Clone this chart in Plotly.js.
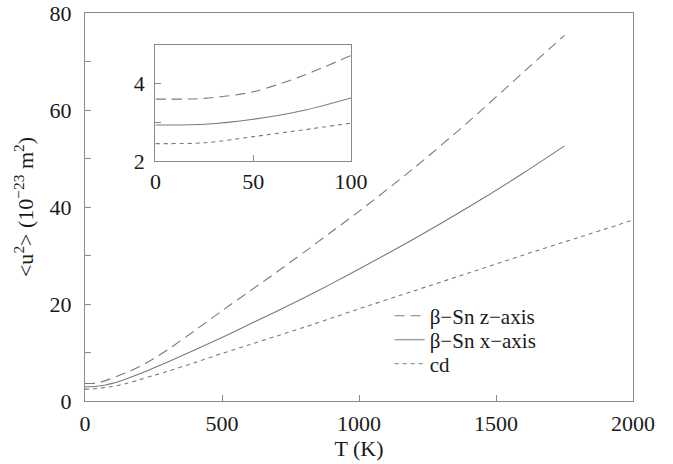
<!DOCTYPE html>
<html>
<head>
<meta charset="utf-8">
<script src="https://cdn.plot.ly/plotly-3.0.1.min.js"></script>
<style>
html,body{margin:0;padding:0;background:#fff;}
#chart{width:673px;height:464px;}
</style>
</head>
<body>
<div id="chart"></div>
<script>
// Temperatures (K)
const tempSn = [0, 25, 50, 75, 100, 150, 200, 250, 300, 400, 500, 600, 700, 800, 900, 1000, 1200, 1400, 1600, 1750];
const tempCd = [0, 25, 50, 75, 100, 150, 200, 250, 300, 400, 500, 600, 700, 800, 900, 1000, 1200, 1400, 1600, 1800, 2000];
// <u^2> values (10^-23 m^2)
const snZ = [3.6, 3.62, 3.79, 4.2, 4.73, 5.85, 7.1, 8.7, 10.5, 14.5, 18.6, 22.6, 26.6, 30.7, 34.9, 39.1, 48.0, 57.6, 67.8, 75.4];
const snX = [2.93, 2.95, 3.08, 3.3, 3.63, 4.55, 5.6, 6.8, 8.0, 10.5, 13.1, 15.8, 18.5, 21.3, 24.2, 27.2, 33.4, 40.0, 47.0, 52.6];
const cdVals = [2.45, 2.47, 2.63, 2.8, 2.98, 3.6, 4.4, 5.25, 6.1, 7.9, 9.8, 11.6, 13.4, 15.2, 17.1, 19.0, 22.7, 26.4, 30.1, 33.7, 37.3];
const insetMaxT = 100;
const seriesNames = ["β−Sn z−axis", "β−Sn x−axis", "cd"];
const xTickVals = [0, 500, 1000, 1500, 2000];
const yTickVals = [0, 10, 20, 30, 40, 50, 60, 70, 80];
const yTickText = ["0", "", "20", "", "40", "", "60", "", "80"];
const insetXTicks = [0, 50, 100];
const insetYTickVals = [2, 3, 4];
const insetYTickText = ["2", "", "4"];

(function () {
  function clip(t, v) {
    const xs = [], ys = [];
    for (let i = 0; i < t.length; i++) { if (t[i] <= insetMaxT) { xs.push(t[i]); ys.push(v[i]); } }
    return {x: xs, y: ys};
  }
  const lineColor = '#7a7a7a';
  const dashes = ['10px,6px', 'solid', '4px,4px'];
  const legendIds = ['legend', 'legend2', 'legend3'];
  const legendY = [0.219, 0.157, 0.095];
  const temps = [tempSn, tempSn, tempCd];
  const vals = [snZ, snX, cdVals];
  const FAM = 'Liberation Serif';
  function mkFont(sz) { return {family: FAM, size: sz, color: '#1a1a1a'}; }

  const data = [];
  for (let k = 0; k < 3; k++) {
    data.push({x: temps[k], y: vals[k], name: seriesNames[k], mode: 'lines', legend: legendIds[k],
      line: {shape: 'spline', smoothing: 0.8, color: lineColor, width: 1.1, dash: dashes[k]}, xaxis: 'x', yaxis: 'y'});
  }
  for (let k = 0; k < 3; k++) {
    const s = clip(temps[k], vals[k]);
    data.push({x: s.x, y: s.y, mode: 'lines', showlegend: false,
      line: {shape: 'spline', smoothing: 0.8, color: lineColor, width: 1.1, dash: dashes[k]}, xaxis: 'x2', yaxis: 'y2'});
  }

  function axis(extra) {
    const a = {showgrid: false, zeroline: false, showline: true, linecolor: '#8a8a8a', linewidth: 1.2, mirror: true,
      ticks: 'inside', tickcolor: '#8a8a8a', ticklen: 6, tickfont: mkFont(22)};
    for (const key in extra) a[key] = extra[key];
    return a;
  }

  const lay = {
    width: 673, height: 464,
    margin: {l: 85, r: 40, t: 13, b: 63},
    paper_bgcolor: '#fff', plot_bgcolor: '#fff',
    font: mkFont(22),
    showlegend: true,
    xaxis: axis({range: [0, 2000], tickvals: xTickVals, ticklabelstandoff: 2,
      title: {text: 'T (K)', font: mkFont(22), standoff: 2}}),
    yaxis: axis({range: [0, 80], tickvals: yTickVals, ticktext: yTickText, ticklabelstandoff: 8,
      title: {text: '&lt;u<sup>2</sup>&gt; (10<sup>−23</sup> m<sup>2</sup>)', font: mkFont(22), standoff: 9}}),
    xaxis2: axis({domain: [0.1286, 0.4854], anchor: 'y2', range: [0, 100], tickvals: insetXTicks, ticklabelstandoff: 0}),
    yaxis2: axis({domain: [0.6186, 0.9175], anchor: 'x2', range: [2, 5], tickvals: insetYTickVals, ticktext: insetYTickText, ticklabelstandoff: 5})
  };
  for (let k = 0; k < 3; k++) {
    lay[legendIds[k]] = {x: 0.556, y: legendY[k], xanchor: 'left', yanchor: 'middle', font: mkFont(21),
      bgcolor: 'rgba(0,0,0,0)', borderwidth: 0, itemwidth: 30};
  }

  Plotly.newPlot('chart', data, lay, {displayModeBar: false, staticPlot: true});
})();
</script>
</body>
</html>
